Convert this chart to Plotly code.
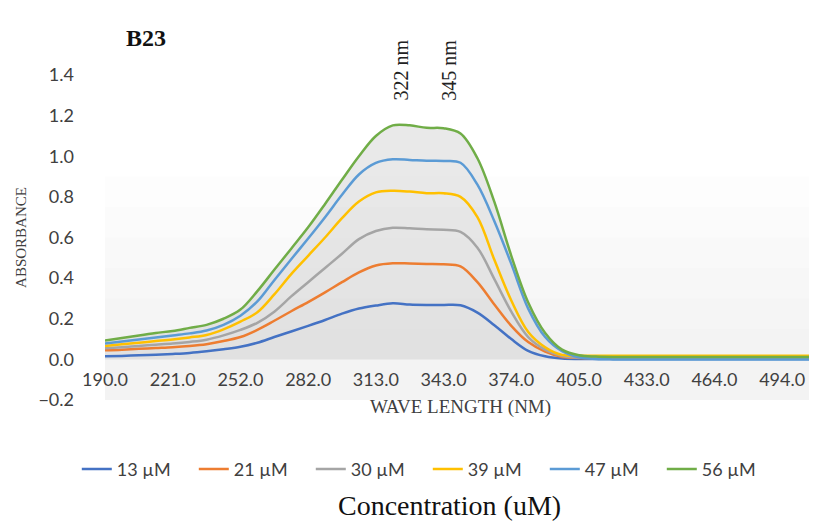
import plotly.graph_objects as go

wavelengths = [190.0, 197.8, 205.5, 213.3, 221.0, 228.8, 236.5, 244.3, 252.0, 259.5,
               267.0, 274.5, 282.0, 289.8, 297.5, 305.3, 313.0, 320.5, 328.0, 335.5,
               343.0, 350.8, 358.5, 366.3, 374.0, 381.8, 389.5, 397.3, 405.0, 412.0,
               419.0, 426.0, 433.0, 440.8, 448.5, 456.3, 464.0, 471.5, 479.0, 486.5,
               494.0, 501.5, 509.0]

tick_labels = ["190.0", "221.0", "252.0", "282.0", "313.0", "343.0", "374.0",
               "405.0", "433.0", "464.0", "494.0"]

series_names = ["13 µM", "21 µM", "30 µM", "39 µM", "47 µM", "56 µM"]

c13 = [0.015, 0.017, 0.020, 0.023, 0.027, 0.032, 0.040, 0.050, 0.062, 0.082,
       0.110, 0.137, 0.165, 0.194, 0.225, 0.250, 0.265, 0.276, 0.270, 0.268,
       0.268, 0.266, 0.230, 0.168, 0.100, 0.042, 0.015, 0.004, 0.002, 0.002,
       0.002, 0.002, 0.002, 0.002, 0.002, 0.002, 0.002, 0.002, 0.002, 0.002,
       0.002, 0.002, 0.002]
c21 = [0.045, 0.048, 0.052, 0.056, 0.060, 0.066, 0.075, 0.090, 0.110, 0.145,
       0.190, 0.237, 0.282, 0.330, 0.380, 0.428, 0.462, 0.473, 0.472, 0.470,
       0.468, 0.458, 0.380, 0.270, 0.165, 0.085, 0.038, 0.012, 0.007, 0.006,
       0.006, 0.006, 0.006, 0.006, 0.006, 0.006, 0.006, 0.006, 0.006, 0.006,
       0.006, 0.006, 0.006]
c30 = [0.055, 0.060, 0.066, 0.072, 0.078, 0.086, 0.097, 0.118, 0.145, 0.180,
       0.235, 0.310, 0.380, 0.450, 0.520, 0.592, 0.632, 0.648, 0.645, 0.640,
       0.638, 0.628, 0.550, 0.395, 0.235, 0.110, 0.048, 0.017, 0.009, 0.008,
       0.008, 0.008, 0.008, 0.008, 0.008, 0.008, 0.008, 0.008, 0.008, 0.008,
       0.008, 0.008, 0.008]
c39 = [0.066, 0.074, 0.082, 0.090, 0.098, 0.108, 0.120, 0.148, 0.186, 0.232,
       0.320, 0.420, 0.510, 0.600, 0.695, 0.777, 0.822, 0.830, 0.826, 0.818,
       0.818, 0.800, 0.700, 0.490, 0.290, 0.135, 0.060, 0.022, 0.018, 0.018,
       0.018, 0.018, 0.018, 0.018, 0.018, 0.018, 0.018, 0.018, 0.018, 0.018,
       0.018, 0.018, 0.018]
c47 = [0.078, 0.088, 0.098, 0.108, 0.118, 0.128, 0.142, 0.170, 0.215, 0.285,
       0.390, 0.493, 0.595, 0.700, 0.810, 0.910, 0.967, 0.985, 0.982, 0.978,
       0.977, 0.968, 0.860, 0.680, 0.470, 0.250, 0.110, 0.040, 0.010, 0.002,
       0.000, 0.000, 0.000, 0.000, 0.000, 0.000, 0.000, 0.000, 0.000, 0.000,
       0.000, 0.000, 0.000]
c56 = [0.093, 0.105, 0.118, 0.130, 0.140, 0.155, 0.170, 0.200, 0.245, 0.336,
       0.441, 0.545, 0.650, 0.765, 0.884, 1.000, 1.100, 1.152, 1.152, 1.140,
       1.138, 1.112, 0.990, 0.775, 0.510, 0.280, 0.130, 0.048, 0.020, 0.014,
       0.012, 0.012, 0.012, 0.012, 0.012, 0.012, 0.012, 0.012, 0.012, 0.012,
       0.012, 0.012, 0.012]

series_values = [c13, c21, c30, c39, c47, c56]
colors = ["#4472C4", "#ED7D31", "#A5A5A5", "#FFC000", "#5B9BD5", "#70AD47"]

cats = [f"{w:.1f}" for w in wavelengths]

fig = go.Figure()

# drop-line style shading under the highest curve
fig.add_trace(go.Scatter(x=cats, y=c56, mode="lines", fill="tozeroy",
                         fillcolor="rgba(195,195,195,0.36)",
                         line=dict(width=0, shape="spline", smoothing=1.0),
                         showlegend=False, hoverinfo="skip"))

for name, vals, col in zip(series_names, series_values, colors):
    fig.add_trace(go.Scatter(x=cats, y=vals, mode="lines", name=name,
                             line=dict(color=col, width=2.5, shape="spline", smoothing=1.0)))

# faint plot-area gradient
for y0, op in [(0.9, 0.008), (0.75, 0.006), (0.6, 0.006), (0.45, 0.006), (0.3, 0.006), (0.15, 0.006)]:
    fig.add_shape(type="rect", xref="paper", yref="y", x0=0, x1=1, y0=-0.2, y1=y0,
                  fillcolor=f"rgba(0,0,0,{op})", line=dict(width=0), layer="below")

serif = "Liberation Serif"
sans = "Lato"

fig.update_layout(
    width=817, height=529,
    margin=dict(l=97, r=9, t=67, b=137),
    paper_bgcolor="white", plot_bgcolor="white",
    showlegend=True,
    legend=dict(orientation="h", x=0.454, y=-0.213, xanchor="center", yanchor="middle",
                font=dict(family=sans, size=18, color="#404040"),
                itemwidth=30, traceorder="normal",
                entrywidth=72, entrywidthmode="pixels"),
    xaxis=dict(type="category", categoryorder="array", categoryarray=cats,
               range=[0, 42], anchor="free", position=0.126,
               tickmode="array", tickvals=tick_labels, ticktext=tick_labels,
               showgrid=False, zeroline=False, showline=False, ticks="",
               ticklabelstandoff=8,
               tickfont=dict(family=sans, size=18, color="#404040"),
               title=dict(text="WAVE LENGTH (NM)", standoff=10,
                          font=dict(family=serif, size=19, color="#404040"))),
    yaxis=dict(range=[-0.2, 1.4], dtick=0.2, tickformat=".1f",
               showgrid=False, zeroline=False, showline=False, ticks="",
               ticklabelstandoff=30,
               tickfont=dict(family=sans, size=18, color="#404040"),
               title=dict(text="ABSORBANCE", standoff=8,
                          font=dict(family=serif, size=15, color="#404040"))),
)

ann = dict(showarrow=False, font=dict(family=serif, size=20, color="#222222"))
fig.add_annotation(text="<b>B23</b>", xref="paper", yref="paper", x=0.058, y=1.114,
                   xanchor="center", yanchor="middle",
                   font=dict(family=serif, size=24, color="#111111"), showarrow=False)
fig.add_annotation(text="322 nm", xref="x", yref="paper", x=17.5, y=1.015,
                   textangle=-90, xanchor="center", yanchor="middle", **ann)
fig.add_annotation(text="345 nm", xref="x", yref="paper", x=20.3, y=1.015,
                   textangle=-90, xanchor="center", yanchor="middle", **ann)
fig.add_annotation(text="Concentration (uM)", xref="paper", yref="paper", x=0.485, y=-0.326,
                   xanchor="center", yanchor="middle",
                   font=dict(family=serif, size=28, color="#111111"), showarrow=False)

fig.write_html("out.html")
